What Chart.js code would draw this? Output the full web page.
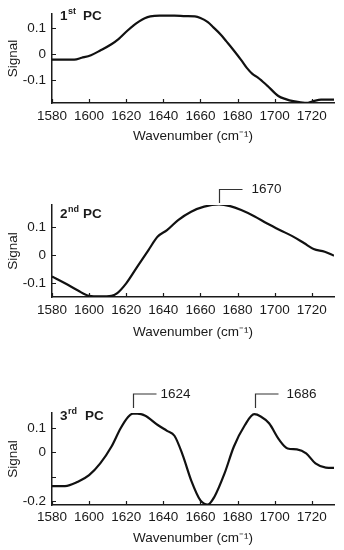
<!DOCTYPE html>
<html>
<head>
<meta charset="utf-8">
<script src="https://cdn.jsdelivr.net/npm/chart.js@4.4.1/dist/chart.umd.min.js"></script>
<style>
  html, body { margin: 0; padding: 0; background: #fff; }
  body { width: 344px; height: 550px; position: relative; overflow: hidden; }
  .panel { position: absolute; left: 0; }
</style>
</head>
<body>
<div class="panel" style="top:0px"><canvas id="c1" width="344" height="144"></canvas></div>
<div class="panel" style="top:170px"><canvas id="c2" width="344" height="170"></canvas></div>
<div class="panel" style="top:360px"><canvas id="c3" width="344" height="186"></canvas></div>
<script>
// ---------- data ----------
const xTickValues = [1580, 1600, 1620, 1640, 1660, 1680, 1700, 1720];
const xTickLabels = ['1580', '1600', '1620', '1640', '1660', '1680', '1700', '1720'];
const xTitle = 'Wavenumber (cm\u207B\u00B9)';
const yTitle = 'Signal';

const pc1Wavenumber = [1580,1586,1592,1596,1601,1606,1612,1616,1620,1624,1627,1630,1633,1638,1646,1652,1657,1660,1664,1667,1671,1674,1678,1682,1685,1688,1691,1696,1702,1706,1710,1714,1718,1721,1725,1732];
const pc1Signal = [-0.02,-0.02,-0.02,-0.013,-0.003,0.015,0.039,0.06,0.087,0.112,0.127,0.139,0.146,0.149,0.149,0.147,0.146,0.14,0.124,0.104,0.076,0.05,0.015,-0.022,-0.052,-0.075,-0.089,-0.12,-0.16,-0.172,-0.18,-0.184,-0.186,-0.18,-0.174,-0.174];
const pc1YTicks = [-0.1, 0, 0.1];
const pc1YLabels = ['-0.1', '0', '0.1'];

const pc2Wavenumber = [1580,1587,1594,1600,1606,1612,1615,1620,1626,1632,1637,1642,1648,1655,1662,1670,1676,1682,1689,1696,1703,1710,1716,1721,1727,1732];
const pc2Signal = [-0.076,-0.1,-0.126,-0.145,-0.147,-0.145,-0.136,-0.1,-0.04,0.019,0.067,0.09,0.126,0.156,0.174,0.182,0.176,0.162,0.14,0.114,0.09,0.067,0.043,0.023,0.013,-0.001];
const pc2YTicks = [-0.1, 0, 0.1];
const pc2YLabels = ['-0.1', '0', '0.1'];
const pc2PeakAt = [1670.2];
const pc2PeakLabels = ['1670'];

const pc3Wavenumber = [1580,1587,1594,1600,1606,1612,1617,1621,1623.5,1626,1630,1637,1642,1646,1650.5,1655,1660,1664,1667.5,1673,1678,1684,1689,1692.5,1697,1702.5,1707,1712,1717,1722,1727.6,1732];
const pc3Signal = [-0.138,-0.138,-0.12,-0.093,-0.045,0.023,0.099,0.145,0.158,0.158,0.151,0.112,0.088,0.068,-0.012,-0.114,-0.196,-0.213,-0.182,-0.086,0.023,0.112,0.156,0.147,0.119,0.051,0.016,0.012,-0.004,-0.045,-0.062,-0.063];
const pc3YTicks = [-0.2, -0.1, 0, 0.1];
const pc3YLabels = ['-0.2', '', '0', '0.1'];
const pc3PeakAt = [1623.5, 1689.4];
const pc3PeakLabels = ['1624', '1686'];

const panelNames = [['1', 'st'], ['2', 'nd'], ['3', 'rd']];

// ---------- rendering ----------
const FONT = '"Liberation Sans", Arial, Helvetica, sans-serif';
const INK = '#1a1a1a';
const FS = 13.5;
Chart.defaults.font.family = FONT;
Chart.defaults.font.size = FS;
Chart.defaults.color = INK;

const decorPlugin = {
  id: 'decor',
  afterDatasetsDraw(chart, args, opts) {
    const ctx = chart.ctx;
    const xs = chart.scales.x, ys = chart.scales.y;
    const a = chart.chartArea;
    ctx.save();
    // inward tick marks
    ctx.strokeStyle = INK;
    ctx.lineWidth = 1.2;
    ctx.beginPath();
    xs.ticks.forEach(t => {
      const px = Math.round(xs.getPixelForValue(t.value)) + 0.5;
      ctx.moveTo(px, a.bottom);
      ctx.lineTo(px, a.bottom - 4);
    });
    ys.ticks.forEach(t => {
      const py = Math.round(ys.getPixelForValue(t.value)) + 0.5;
      ctx.moveTo(a.left, py);
      ctx.lineTo(a.left + 4, py);
    });
    ctx.stroke();

    // panel name e.g. 1st PC
    const nm = opts.name;
    ctx.fillStyle = INK;
    ctx.textBaseline = 'middle';
    ctx.textAlign = 'left';
    ctx.font = 'bold 13.5px ' + FONT;
    ctx.fillText(nm[0], opts.nameX, opts.nameY);
    const w1 = ctx.measureText(nm[0]).width;
    ctx.font = 'bold 9px ' + FONT;
    ctx.fillText(nm[1], opts.nameX + w1 + 0.5, opts.nameY - 4);
    ctx.font = 'bold 13.5px ' + FONT;
    ctx.fillText('PC', opts.pcX, opts.nameY);

    // peak markers
    (opts.peaks || []).forEach((p, i) => {
      const px = Math.round(xs.getPixelForValue(p)) + 0.5;
      ctx.strokeStyle = '#333';
      ctx.lineWidth = 1.2;
      ctx.beginPath();
      ctx.moveTo(px, opts.markBottom);
      ctx.lineTo(px, opts.markTop);
      ctx.lineTo(px + 23, opts.markTop);
      ctx.stroke();
      ctx.font = FS + 'px ' + FONT;
      ctx.fillStyle = INK;
      ctx.textBaseline = 'middle';
      ctx.fillText(opts.peakLabels[i], px + 23 + opts.gaps[i], opts.markTop);
    });
    ctx.restore();
  }
};

function makePanel(id, xv, yv, yMin, yMax, yTicks, yLabels, cfg) {
  const pts = xv.map((x, i) => ({ x: x, y: yv[i] }));
  return new Chart(document.getElementById(id), {
    type: 'line',
    data: {
      datasets: [{
        data: pts,
        borderColor: '#111',
        borderWidth: 2.2,
        pointRadius: 0,
        fill: false,
        cubicInterpolationMode: 'monotone'
      }]
    },
    options: {
      responsive: false,
      animation: false,
      devicePixelRatio: 1,
      layout: { padding: { top: cfg.padTop, right: 10, left: 0, bottom: 0 } },
      plugins: {
        legend: { display: false },
        tooltip: { enabled: false },
        decor: cfg.decor
      },
      scales: {
        x: {
          type: 'linear',
          min: 1580,
          max: 1732,
          afterBuildTicks: s => { s.ticks = xTickValues.map(v => ({ value: v })); },
          afterFit: s => { s.height = cfg.xHeight; },
          grid: { display: false, drawTicks: false },
          border: { display: true, color: INK, width: 1.5 },
          ticks: {
            padding: cfg.xPad,
            maxRotation: 0,
            autoSkip: false,
            callback: (v, i) => xTickLabels[i]
          },
          title: { display: true, text: xTitle, padding: 0, font: { size: FS } }
        },
        y: {
          type: 'linear',
          min: yMin,
          max: yMax,
          afterBuildTicks: s => { s.ticks = yTicks.map(v => ({ value: v })); },
          afterFit: s => { s.width = 52; },
          grid: { display: false, drawTicks: false },
          border: { display: true, color: INK, width: 1.5 },
          ticks: {
            padding: 6,
            autoSkip: false,
            callback: (v, i) => yLabels[i]
          },
          title: { display: true, text: yTitle, padding: { top: 5, bottom: 0 }, font: { size: FS } }
        }
      }
    },
    plugins: [decorPlugin]
  });
}

makePanel('c1', pc1Wavenumber, pc1Signal, -0.187, 0.155, pc1YTicks, pc1YLabels, {
  padTop: 10, xHeight: 41, xPad: 5.5,
  decor: { name: panelNames[0], nameX: 60, nameY: 16, pcX: 83 }
});
makePanel('c2', pc2Wavenumber, pc2Signal, -0.149, 0.18, pc2YTicks, pc2YLabels, {
  padTop: 35, xHeight: 43, xPad: 5.5,
  decor: { name: panelNames[1], nameX: 60, nameY: 44, pcX: 83,
           peaks: pc2PeakAt, peakLabels: pc2PeakLabels, gaps: [9], markTop: 19.5, markBottom: 33 }
});
makePanel('c3', pc3Wavenumber, pc3Signal, -0.215, 0.161, pc3YTicks, pc3YLabels, {
  padTop: 53, xHeight: 41, xPad: 4,
  decor: { name: panelNames[2], nameX: 60, nameY: 56, pcX: 85,
           peaks: pc3PeakAt, peakLabels: pc3PeakLabels, gaps: [4, 8], markTop: 34, markBottom: 48 }
});
</script>
</body>
</html>
